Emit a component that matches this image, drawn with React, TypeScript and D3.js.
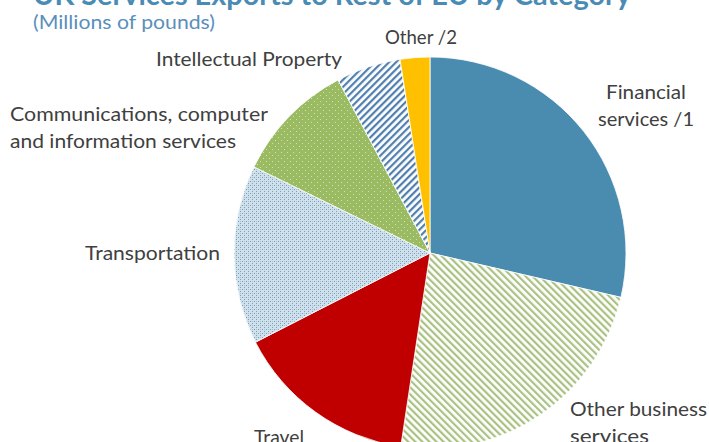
import React from 'react';
import * as d3 from 'd3';

// ── Data (millions of pounds) ─────────────────────────────────────────────────
const categories = [
  'Financial services /1',
  'Other business services',
  'Travel',
  'Transportation',
  'Communications, computer and information services',
  'Intellectual Property',
  'Other /2',
];
const values = [25800, 21400, 13600, 13300, 9000, 4800, 2200];

// Fill for each slice (solid colour or pattern id)
const fills = [
  '#4A8BB0',
  'url(#pat-otherbiz)',
  '#C00000',
  'url(#pat-transport)',
  'url(#pat-comms)',
  'url(#pat-ip)',
  '#FFC000',
];

// Label layout: lines (with the width each line takes), position, anchor
const labelLines = [
  ['Financial', 'services /1'],
  ['Other business', 'services'],
  ['Travel'],
  ['Transportation'],
  ['Communications, computer', 'and information services'],
  ['Intellectual Property'],
  ['Other /2'],
];
const labelWidths = [[80, 96], [137, 79], [50], [135], [258, 226], [186], [72]];
const labelPos: { x: number; y: number; anchor: string }[] = [
  { x: 646, y: 99, anchor: 'middle' },
  { x: 570, y: 416, anchor: 'start' },
  { x: 254, y: 444, anchor: 'start' },
  { x: 85, y: 260, anchor: 'start' },
  { x: 10, y: 121, anchor: 'start' },
  { x: 156, y: 66, anchor: 'start' },
  { x: 385, y: 44, anchor: 'start' },
];

const W = 709;
const H = 442;
const CX = 430;
const CY = 253;
const R = 196;
const FONT = 'Lato, "Open Sans", sans-serif';

export default function App() {
  const pie = d3.pie<number>().sort(null).value(d => d);
  const arcs = pie(values);
  const arcGen = d3.arc<d3.PieArcDatum<number>>().innerRadius(0).outerRadius(R);

  return (
    <div style={{ position: 'fixed', left: 0, top: 0, width: W, height: H, background: '#fff' }}>
      <svg width={W} height={H} style={{ display: 'block' }}>
        <defs>
          {/* wide downward diagonal, light green */}
          <pattern id="pat-otherbiz" width={5} height={5} patternUnits="userSpaceOnUse" patternTransform="rotate(-45)">
            <rect width={5} height={5} fill="#ffffff" />
            <rect width={2.2} height={5} fill="#A9C282" />
          </pattern>
          {/* upward diagonal, blue */}
          <pattern id="pat-ip" width={5} height={5} patternUnits="userSpaceOnUse" patternTransform="rotate(45)">
            <rect width={5} height={5} fill="#ffffff" />
            <rect width={2.2} height={5} fill="#4F7FAE" />
          </pattern>
          {/* dotted grid, light blue */}
          <pattern id="pat-transport" width={4} height={4} patternUnits="userSpaceOnUse">
            <rect width={4} height={4} fill="#CFE1ED" />
            <rect x={0} y={0} width={1} height={1} fill="#7F9CB4" />
            <rect x={2} y={2} width={1} height={1} fill="#7F9CB4" />
            <rect x={2} y={0} width={1} height={1} fill="#A9C0D2" />
          </pattern>
          {/* green with small white dots */}
          <pattern id="pat-comms" width={6} height={6} patternUnits="userSpaceOnUse">
            <rect width={6} height={6} fill="#9BBB63" />
            <rect x={1} y={1} width={1} height={1} fill="#ffffff" opacity={0.55} />
            <rect x={4} y={4} width={1} height={1} fill="#ffffff" opacity={0.55} />
          </pattern>
        </defs>

        {/* Title, partly cut off by the top edge */}
        <text x={33} y={5} fontFamily={FONT} fontSize={29} fontWeight={700} fill="#4A8BB5"
          textLength={598} lengthAdjust="spacingAndGlyphs">
          UK Services Exports to Rest of EU by Category
        </text>
        <text x={33} y={29} fontFamily={FONT} fontSize={20} fill="#5A8FBA"
          textLength={182} lengthAdjust="spacingAndGlyphs">
          (Millions of pounds)
        </text>

        <g transform={`translate(${CX},${CY})`}>
          {arcs.map((a, i) => (
            <path key={categories[i]} d={arcGen(a) || ''} fill={fills[i]} stroke="#ffffff" strokeWidth={0.8} />
          ))}
        </g>

        {labelLines.map((lines, i) => (
          <text
            key={categories[i]}
            textAnchor={labelPos[i].anchor}
            fontFamily={FONT}
            fontSize={20}
            fill="#404040"
          >
            {lines.map((l, j) => (
              <tspan
                key={j}
                x={labelPos[i].x}
                y={labelPos[i].y + j * 27}
                textLength={labelWidths[i][j]}
                lengthAdjust="spacingAndGlyphs"
              >
                {l}
              </tspan>
            ))}
          </text>
        ))}
      </svg>
    </div>
  );
}
